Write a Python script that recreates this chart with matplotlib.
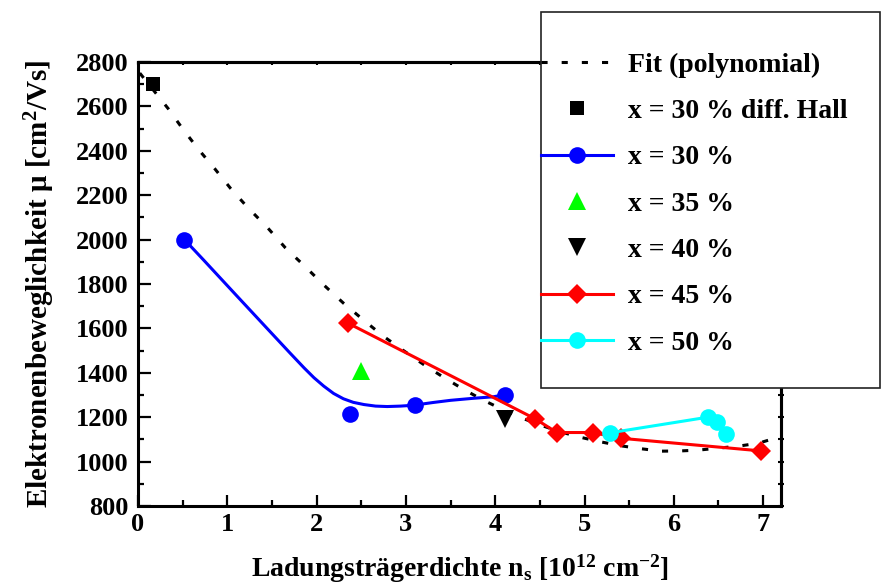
import matplotlib
matplotlib.use("Agg")
import matplotlib.pyplot as plt
from matplotlib.patches import Rectangle
from matplotlib.ticker import MultipleLocator

# ---- data ----
fit_x = [0.02, 0.34, 0.50, 0.68, 0.86, 1.04, 1.23, 1.45, 1.65, 1.87, 2.09, 2.30,
         2.53, 2.75, 2.98, 3.20, 3.42, 3.63, 3.85, 4.08, 4.28, 4.51, 4.73, 4.96,
         5.18, 5.41, 5.61, 5.86, 6.07, 6.28, 6.51, 6.73, 6.95, 7.17]
fit_y = [2750, 2589, 2499, 2405, 2319, 2229, 2144, 2054, 1963, 1879, 1792, 1714,
         1636, 1564, 1498, 1437, 1380, 1329, 1280, 1235, 1199, 1164, 1134, 1109,
         1089, 1071, 1059, 1047, 1048, 1052, 1061, 1070, 1083, 1110]

hall_x = [0.17]
hall_y = [2700]

x30_x = [0.52, 2.37, 3.10, 4.11]
x30_y = [2000, 1213, 1254, 1302]
# smooth curve through the x = 30 % data
x30_curve_x = [0.52, 0.73, 1.11, 1.48, 1.70, 1.86, 1.97, 2.08, 2.19, 2.30, 2.41,
               2.53, 2.66, 2.79, 2.94, 3.09, 3.30, 3.50, 3.75, 3.98, 4.11]
x30_curve_y = [2000, 1910, 1745, 1585, 1490, 1422, 1378, 1340, 1307, 1283, 1267,
               1257, 1250, 1248, 1250, 1254, 1266, 1276, 1285, 1292, 1302]

x35_x = [2.50]
x35_y = [1410]

x40_x = [4.11]
x40_y = [1190]

x45_x = [2.35, 4.45, 4.69, 5.09, 5.41, 6.98]
x45_y = [1624, 1192, 1131, 1131, 1105, 1048]

x50_x = [5.29, 6.38, 6.48, 6.58]
x50_y = [1130, 1200, 1178, 1124]

labels = ["Fit (polynomial)", "x = 30 % diff. Hall", "x = 30 %", "x = 35 %",
          "x = 40 %", "x = 45 %", "x = 50 %"]

xlabel = r"Ladungsträgerdichte $\mathbf{n_s}$ [10$^{\mathbf{12}}$ cm$^{\mathbf{-2}}$]"
ylabel = r"Elektronenbeweglichkeit μ [cm$^{\mathbf{2}}$/Vs]"

# ---- style ----
plt.rcParams["font.family"] = ["Liberation Serif", "DejaVu Serif"]
plt.rcParams["font.weight"] = "bold"
plt.rcParams["mathtext.fontset"] = "custom"
plt.rcParams["mathtext.rm"] = "Liberation Serif:bold"
plt.rcParams["mathtext.bf"] = "Liberation Serif:bold"
plt.rcParams["mathtext.it"] = "Liberation Serif:bold"

fig = plt.figure(figsize=(8.81, 5.85), dpi=100)
L, R, T, B = 138, 781, 62, 506
ax = fig.add_axes([L / 881, 1 - B / 585, (R - L) / 881, (B - T) / 585])

lw = 2.2
dash = (0, (2.0, 4.6))
h_fit, = ax.plot(fit_x, fit_y, color="black", lw=lw, linestyle=dash, zorder=2)
h_hall, = ax.plot(hall_x, hall_y, linestyle="none", marker="s", ms=10.5,
                  color="black", mew=0, zorder=3)
ax.plot(x30_curve_x, x30_curve_y, color="#0000ff", lw=lw, zorder=3)
ax.plot(x30_x, x30_y, linestyle="none", marker="o", ms=12, color="#0000ff",
        mew=0, zorder=4)
h30, = ax.plot([], [], color="#0000ff", lw=lw, marker="o", ms=12, mew=0)
h35, = ax.plot(x35_x, x35_y, linestyle="none", marker="^", ms=13.5,
               color="#00ff00", mew=0, zorder=4)
h40, = ax.plot(x40_x, x40_y, linestyle="none", marker="v", ms=13.5,
               color="black", mew=0, zorder=4)
h45, = ax.plot(x45_x, x45_y, color="#ff0000", lw=lw, marker="D", ms=10,
               mew=0, zorder=5)
h50, = ax.plot(x50_x, x50_y, color="#00ffff", lw=lw, marker="o", ms=12,
               mew=0, zorder=6)

ax.set_xlim(0, 7.2)
ax.set_ylim(800, 2800)
ax.xaxis.set_major_locator(MultipleLocator(1))
ax.xaxis.set_minor_locator(MultipleLocator(0.5))
ax.yaxis.set_major_locator(MultipleLocator(200))
ax.yaxis.set_minor_locator(MultipleLocator(100))
for s in ax.spines.values():
    s.set_linewidth(2.2)
ax.tick_params(axis="both", which="major", direction="in", length=8, width=1.6,
               labelsize=19, pad=5)
ax.tick_params(axis="both", which="minor", direction="in", length=4.5, width=1.6)
ax.tick_params(axis="y", which="major", pad=7, length=9)

# small ticks on the top and right edges
top = ax.secondary_xaxis("top")
top.xaxis.set_major_locator(MultipleLocator(0.5))
top.tick_params(direction="in", length=2.5, width=1.5, labeltop=False)
top.spines["top"].set_linewidth(2.2)
right = ax.secondary_yaxis("right")
right.yaxis.set_major_locator(MultipleLocator(100))
right.tick_params(direction="inout", length=4, width=1.5, labelright=False)
right.spines["right"].set_linewidth(2.2)

ax.set_xlabel(xlabel, fontsize=20, fontweight="bold", labelpad=12)
ax.set_ylabel(ylabel, fontsize=21, fontweight="bold", labelpad=13)

# legend box
fig.patches.append(Rectangle((541 / 881, 1 - 388 / 585), 339 / 881, 376 / 585,
                             transform=fig.transFigure, facecolor="white",
                             edgecolor="#222222", lw=1.2, zorder=10))
leg = fig.legend([h_fit, h_hall, h30, h35, h40, h45, h50], labels,
                 loc="center left", bbox_to_anchor=(541 / 881, 1 - 204 / 585),
                 frameon=False, prop={"weight": "bold", "size": 20},
                 borderpad=0, borderaxespad=0, handlelength=2.6,
                 handletextpad=0.55, labelspacing=0.75, numpoints=1)
leg.set_zorder(11)

fig.savefig("out.png", dpi=100)
